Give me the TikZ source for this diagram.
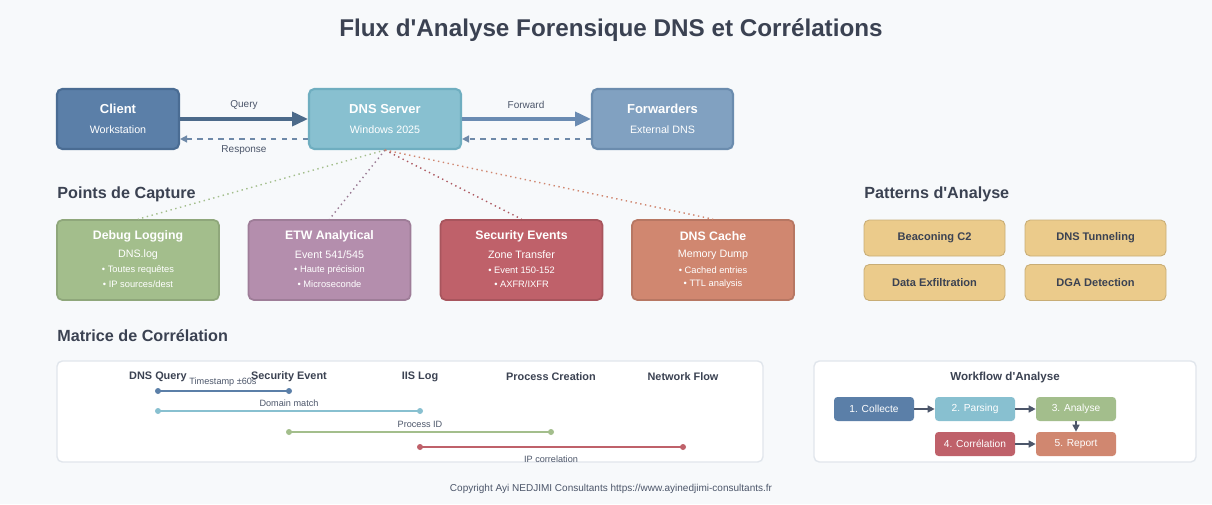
\documentclass[tikz,border=0pt]{standalone}
\usepackage{fontspec}
\setmainfont{Liberation Sans}
\usetikzlibrary{arrows.meta}

\definecolor{bgGrey}{HTML}{F7F9FB}
\definecolor{darkText}{HTML}{3B4252}
\definecolor{labelGrey}{HTML}{4C566A}
\definecolor{cliBlue}{HTML}{5B7FA8}
\definecolor{cliEdge}{HTML}{4A6C93}
\definecolor{dnsTeal}{HTML}{88C0D0}
\definecolor{dnsEdge}{HTML}{6FAEC0}
\definecolor{fwdBlue}{HTML}{81A1C1}
\definecolor{fwdEdge}{HTML}{6B8CAE}
\definecolor{nordGreen}{HTML}{A3BE8C}
\definecolor{nordPurple}{HTML}{B48EAD}
\definecolor{nordRed}{HTML}{BF616A}
\definecolor{nordOrange}{HTML}{D08770}
\definecolor{nordYellow}{HTML}{EBCB8B}
\definecolor{queryArrow}{HTML}{4C6A8A}
\definecolor{fwdArrow}{HTML}{6A8BB2}
\definecolor{panelEdge}{HTML}{E1E6EC}

\newcommand{\apos}{\textquotesingle}

\begin{document}
\begin{tikzpicture}[x=0.02cm,y=-0.02cm]
	\pgfmathsetmacro{\px}{0.02}
	\tikzstyle{mainbox}=[rounded corners=3pt, line width=1.2pt, minimum height=60*\px cm]
	\tikzstyle{capbox}=[rounded corners=3pt, line width=1pt, minimum width=162*\px cm, minimum height=80*\px cm]
	\tikzstyle{patbox}=[rounded corners=3pt, fill=nordYellow, draw=nordYellow!85!black, line width=0.5pt, minimum width=141*\px cm, minimum height=36*\px cm, text=darkText, font=\fontsize{6.3}{7}\selectfont\bfseries]
	\tikzstyle{wfbox}=[rounded corners=2pt, minimum width=80*\px cm, minimum height=24*\px cm, text=white, font=\fontsize{5.8}{7}\selectfont]
	\tikzstyle{panel}=[rounded corners=3pt, fill=white, draw=panelEdge, line width=0.8pt]
	\tikzstyle{boxtitle}=[white, font=\fontsize{7.4}{9}\selectfont\bfseries]
	\tikzstyle{captitle}=[white, font=\fontsize{7.0}{9}\selectfont\bfseries]
	\tikzstyle{boxsub}=[white, font=\fontsize{6.1}{7}\selectfont]
	\tikzstyle{bullet}=[white, font=\fontsize{5.3}{6}\selectfont]
	\tikzstyle{section}=[darkText, anchor=west, inner sep=0pt, font=\fontsize{9.2}{11}\selectfont\bfseries]
	\tikzstyle{colhead}=[darkText, font=\fontsize{6.2}{7}\selectfont\bfseries]
	\tikzstyle{corrlbl}=[labelGrey, font=\fontsize{5.2}{6}\selectfont]
	\tikzstyle{corrline}=[line width=1.5pt]
	\tikzstyle{wfarrow}=[-{Triangle[length=4pt,width=4pt]}, labelGrey, line width=0.8pt]

	\fill[bgGrey] (0,0) rectangle (1212,504);
	\useasboundingbox (0,0) rectangle (1212,504);

	\node[darkText, font=\fontsize{13.8}{16}\selectfont\bfseries] (title) at (611,30) {Flux d\apos Analyse Forensique DNS et Corrélations};

	% flux principal
	\node[mainbox, fill=cliBlue, draw=cliEdge, minimum width=122*\px cm] (cli) at (118,119) {};
	\node[boxtitle] at (118,109) {Client};
	\node[boxsub] at (118,130) {Workstation};

	\node[mainbox, fill=dnsTeal, draw=dnsEdge, minimum width=152*\px cm] (dns) at (385,119) {};
	\node[boxtitle] at (385,109) {DNS Server};
	\node[boxsub] at (385,130) {Windows 2025};

	\node[mainbox, fill=fwdBlue, draw=fwdEdge, minimum width=141*\px cm] (fwd) at (662.5,119) {};
	\node[boxtitle] at (662.5,109) {Forwarders};
	\node[boxsub] at (662.5,130) {External DNS};

	\draw[queryArrow, line width=1.8pt, -{Triangle[length=9pt,width=8pt]}] (cli.east) -- (dns.west);
	\draw[fwdArrow, line width=1.8pt, -{Triangle[length=9pt,width=8pt]}] (dns.east) -- (fwd.west);
	\draw[fwdArrow!80!gray, line width=0.8pt, dashed, -{Triangle[length=4pt,width=4pt]}] ([yshift=-0.4cm]dns.west) -- ([yshift=-0.4cm]cli.east);
	\draw[fwdArrow!80!gray, line width=0.8pt, dashed, -{Triangle[length=4pt,width=4pt]}] ([yshift=-0.4cm]fwd.west) -- ([yshift=-0.4cm]dns.east);
	\node[corrlbl, font=\fontsize{5.7}{7}\selectfont] at (244,105) {Query};
	\node[corrlbl, font=\fontsize{5.7}{7}\selectfont] at (244,150) {Response};
	\node[corrlbl, font=\fontsize{5.7}{7}\selectfont] at (526,105) {Forward};

	% points de capture
	\node[section] at (57,194) {Points de Capture};

	\node[capbox, fill=nordGreen, draw=nordGreen!88!black] (dbg) at (138,260) {};
	\node[captitle] at (138,236) {Debug Logging};
	\node[boxsub] at (138,255) {DNS.log};
	\node[bullet] at (138,270) {• Toutes requêtes};
	\node[bullet] at (138,284) {• IP sources/dest};

	\node[capbox, fill=nordPurple, draw=nordPurple!88!black] (etw) at (329.5,260) {};
	\node[captitle] at (329.5,236) {ETW Analytical};
	\node[boxsub] at (329.5,255) {Event 541/545};
	\node[bullet] at (329.5,270) {• Haute précision};
	\node[bullet] at (329.5,284) {• Microseconde};

	\node[capbox, fill=nordRed, draw=nordRed!88!black] (sec) at (521.5,260) {};
	\node[captitle] at (521.5,236) {Security Events};
	\node[boxsub] at (521.5,255) {Zone Transfer};
	\node[bullet] at (521.5,270) {• Event 150-152};
	\node[bullet] at (521.5,284) {• AXFR/IXFR};

	\node[capbox, fill=nordOrange, draw=nordOrange!88!black] (cache) at (713,260) {};
	\node[captitle] at (713,236) {DNS Cache};
	\node[boxsub] at (713,255) {Memory Dump};
	\node[bullet] at (713,270) {• Cached entries};
	\node[bullet] at (713,284) {• TTL analysis};

	\draw[nordGreen, dotted, line width=0.8pt] (dns.south) -- (dbg.north);
	\draw[nordPurple!85!black, dotted, line width=0.8pt] (dns.south) -- (etw.north);
	\draw[nordRed!90!black, dotted, line width=0.8pt] (dns.south) -- (sec.north);
	\draw[nordOrange, dotted, line width=0.8pt] (dns.south) -- (cache.north);

	% patterns
	\node[section] at (864,194) {Patterns d\apos Analyse};
	\node[patbox] (beacon) at (934.5,238) {Beaconing C2};
	\node[patbox] (tunnel) at (1095.5,238) {DNS Tunneling};
	\node[patbox] (exfil) at (934.5,282.5) {Data Exfiltration};
	\node[patbox] (dga) at (1095.5,282.5) {DGA Detection};

	% matrice de correlation
	\node[section] at (57,336) {Matrice de Corrélation};
	\node[panel, minimum width=706*\px cm, minimum height=101*\px cm] (corrPanel) at (410,411.5) {};
	\node[colhead] at (158,377) {DNS Query};
	\node[colhead] at (289,377) {Security Event};
	\node[colhead] at (420,377) {IIS Log};
	\node[colhead] at (551,377) {Process Creation};
	\node[colhead] at (683,377) {Network Flow};

	\coordinate (tsA) at (158,391);
	\coordinate (tsB) at (289,391);
	\coordinate (dmA) at (158,411);
	\coordinate (dmB) at (420,411);
	\coordinate (pidA) at (289,432);
	\coordinate (pidB) at (551,432);
	\coordinate (ipA) at (420,447);
	\coordinate (ipB) at (683,447);

	\draw[corrline, cliBlue] (tsA) -- (tsB);
	\fill[cliBlue] (tsA) circle (3) (tsB) circle (3);
	\node[corrlbl] at (223,382) {Timestamp ±60s};

	\draw[corrline, dnsTeal] (dmA) -- (dmB);
	\fill[dnsTeal] (dmA) circle (3) (dmB) circle (3);
	\node[corrlbl] at (289,403) {Domain match};

	\draw[corrline, nordGreen] (pidA) -- (pidB);
	\fill[nordGreen] (pidA) circle (3) (pidB) circle (3);
	\node[corrlbl] at (420,424) {Process ID};

	\draw[corrline, nordRed] (ipA) -- (ipB);
	\fill[nordRed] (ipA) circle (3) (ipB) circle (3);
	\node[corrlbl] at (551,459) {IP correlation};

	% workflow
	\node[panel, minimum width=382*\px cm, minimum height=101*\px cm] (wfPanel) at (1005,411.5) {};
	\node[colhead, font=\fontsize{6.6}{8}\selectfont\bfseries] at (1005,377) {Workflow d\apos Analyse};
	\node[wfbox, fill=cliBlue] (wf1) at (874,409) {1. Collecte};
	\node[wfbox, fill=dnsTeal] (wf2) at (975,409) {2. Parsing};
	\node[wfbox, fill=nordGreen] (wf3) at (1076,409) {3. Analyse};
	\node[wfbox, fill=nordRed] (wf4) at (975,444) {4. Corrélation};
	\node[wfbox, fill=nordOrange] (wf5) at (1076,444) {5. Report};
	\draw[wfarrow] (wf1) -- (wf2);
	\draw[wfarrow] (wf2) -- (wf3);
	\draw[wfarrow] (wf3) -- (wf5);
	\draw[wfarrow] (wf4) -- (wf5);

	\node[labelGrey, font=\fontsize{5.7}{7}\selectfont] (copy) at (611,489) {Copyright Ayi NEDJIMI Consultants https://www.ayinedjimi-consultants.fr};
\end{tikzpicture}
\end{document}
